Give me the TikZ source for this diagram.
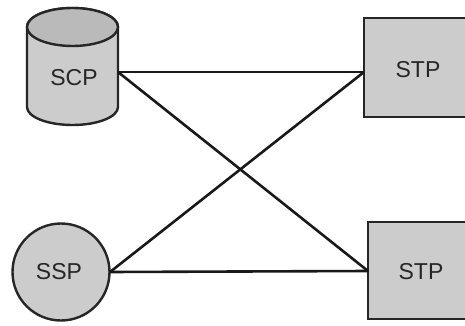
\documentclass[tikz,border=0pt]{standalone}
\usepackage{fontspec}
\setmainfont{Liberation Sans}
\begin{document}
\begin{tikzpicture}[x=1pt,y=-1pt,
  outline/.style={draw=black!85, line width=2.4pt},
  graybox/.style={outline, fill=black!20},
  label/.style={font=\fontsize{23}{26}\selectfont, text=black!85},
  link/.style={draw=black!90, line width=2.6pt}]
\useasboundingbox (0,0) rectangle (465,326);

% SCP database cylinder
\path[graybox] (27,27) -- (27,107) arc[start angle=180, end angle=0, x radius=45.5, y radius=18]
  -- (118,27) arc[start angle=0, end angle=-180, x radius=45.5, y radius=19] -- cycle;
\path[outline, fill=black!27] (72.5,27) ellipse[x radius=45.5, y radius=19];
\node[label] (scp) at (74,78) {SCP};
\coordinate (scpport) at (118,72);

% SSP circle
\node[graybox, circle, minimum size=97pt, inner sep=0pt] (sspc) at (61,272) {};
\node[label] (ssp) at (59,272) {SSP};
\coordinate (sspport) at (110,272);

% STP boxes, running off the right edge
\path[graybox] (364,18) rectangle (475,117);
\node[label] (stpa) at (418,70) {STP};
\coordinate (stpaport) at (364,72);

\path[graybox] (368,222) rectangle (475,319);
\node[label] (stpb) at (421,272) {STP};
\coordinate (stpbport) at (368,271);

% links
\draw[link] (scpport) -- (stpaport);
\draw[link] (scpport) -- (stpbport);
\draw[link] (sspport) -- (stpaport);
\draw[link] (sspport) -- (stpbport);
\end{tikzpicture}
\end{document}
